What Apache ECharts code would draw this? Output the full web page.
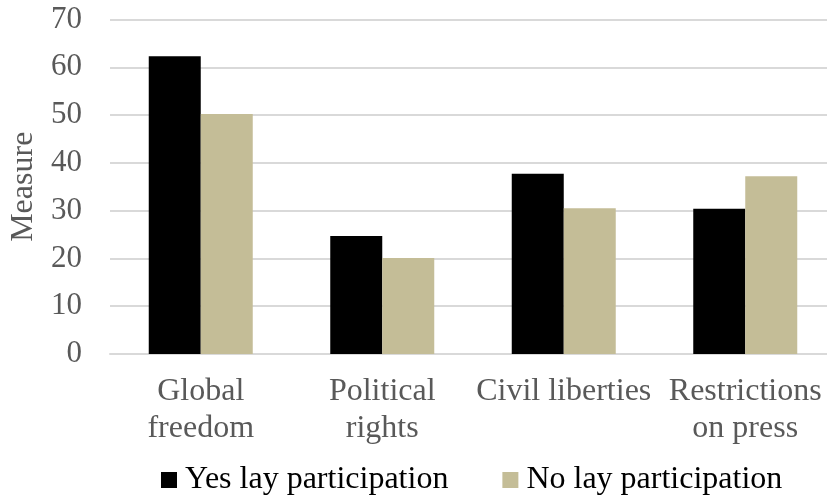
<!DOCTYPE html>
<html>
<head>
<meta charset="utf-8">
<script src="https://cdn.jsdelivr.net/npm/echarts@6/dist/echarts.min.js"></script>
<style>
  html, body { margin: 0; padding: 0; background: #fff; }
  #chart { width: 827px; height: 499px; }
</style>
</head>
<body>
<div id="chart"></div>
<script>
// Freedom measures by lay participation
const categories = ['Global\nfreedom', 'Political\nrights', 'Civil liberties', 'Restrictions\non press'];
const yesLay = [62.3, 24.7, 37.7, 30.4];
const noLay = [50.2, 20.1, 30.5, 37.2];
const yTicks = { min: 0, max: 70, interval: 10 };

const FONT = '"Liberation Serif", "Times New Roman", serif';
const GREY = '#595959';

const chart = echarts.init(document.getElementById('chart'), null, { renderer: 'canvas' });
chart.setOption({
  animation: false,
  backgroundColor: '#ffffff',
  textStyle: { fontFamily: FONT },
  grid: {
    left: 110, top: 19.5, width: 726, height: 334.5,
    containLabel: false, outerBoundsMode: 'none'
  },
  legend: {
    left: 161,
    top: 464,
    padding: 0,
    itemWidth: 16,
    itemHeight: 16,
    itemGap: 54,
    icon: 'rect',
    textStyle: { fontFamily: FONT, fontSize: 32, color: '#000000', padding: [0, 0, 0, 3] },
    data: ['Yes lay participation', 'No lay participation']
  },
  xAxis: {
    type: 'category',
    data: categories,
    axisLine: { show: true, lineStyle: { color: '#d9d9d9', width: 2 } },
    axisTick: { show: false },
    axisLabel: {
      interval: 0,
      margin: 19,
      fontFamily: FONT,
      fontSize: 32,
      lineHeight: 37,
      color: GREY
    }
  },
  yAxis: {
    type: 'value',
    min: yTicks.min,
    max: yTicks.max,
    interval: yTicks.interval,
    name: 'Measure',
    nameLocation: 'middle',
    nameGap: 70,
    nameTextStyle: { fontFamily: FONT, fontSize: 32, color: GREY },
    axisLine: { show: false },
    axisTick: { show: false },
    axisLabel: { margin: 28, fontFamily: FONT, fontSize: 31, color: GREY },
    splitLine: { lineStyle: { color: '#d9d9d9', width: 2 } }
  },
  series: [
    {
      name: 'Yes lay participation',
      type: 'bar',
      data: yesLay,
      barWidth: 52,
      barGap: '0%',
      itemStyle: { color: '#000000' }
    },
    {
      name: 'No lay participation',
      type: 'bar',
      data: noLay,
      barWidth: 52,
      itemStyle: { color: '#c4bd97' }
    }
  ]
});
</script>
</body>
</html>
